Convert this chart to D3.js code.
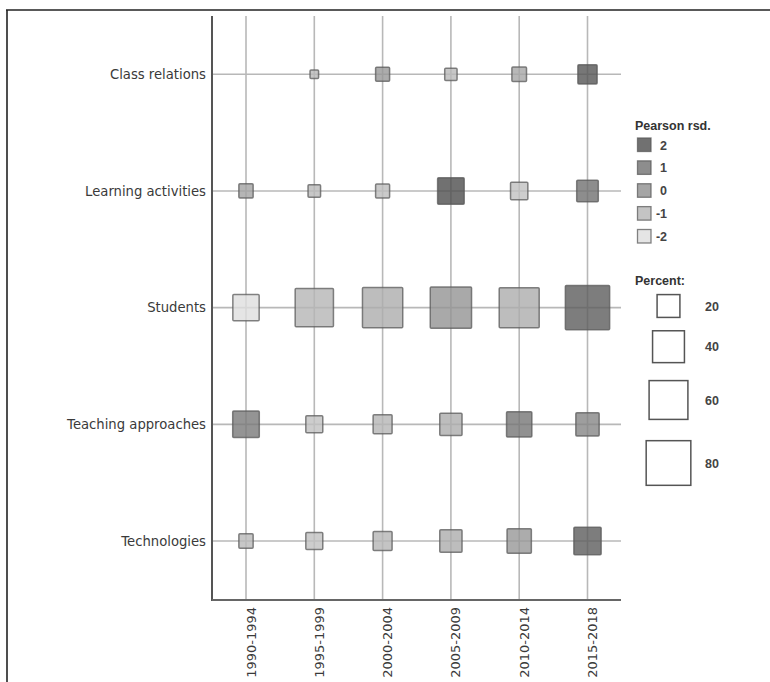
<!DOCTYPE html>
<html>
<head>
<meta charset="utf-8">
<script src="https://cdn.jsdelivr.net/npm/d3@7"></script>
<style>
html, body { margin: 0; padding: 0; background: #fff; }
svg { display: block; }
</style>
</head>
<body>
<svg id="chart" width="770" height="682"></svg>
<script>
// ---- data ----
const periods = ["1990-1994", "1995-1999", "2000-2004", "2005-2009", "2010-2014", "2015-2018"];
const categories = ["Class relations", "Learning activities", "Students", "Teaching approaches", "Technologies"];
// percent per category (rows) and period (columns); null = no square
const percentClassRelations     = [null, 2.4, 7.1, 5.4, 7.8, 14];
const percentLearningActivities = [7.4, 5.6, 7.1, 27.5, 11.2, 17.8];
const percentStudents           = [26.9, 58.4, 64.8, 68.2, 63.9, 78.7];
const percentTeachingApproaches = [27.5, 10.7, 13.6, 19, 24.8, 20.9];
const percentTechnologies       = [7.4, 10.7, 13.6, 19, 22.8, 29];
// Pearson residuals
const rsdClassRelations     = [null, -1.1, -0.2, -1.1, -0.6, 1.8];
const rsdLearningActivities = [-0.5, -1.1, -1.2, 2.2, -1.3, 1.0];
const rsdStudents           = [-2.0, -1.0, -0.8, -0.1, -0.8, 1.6];
const rsdTeachingApproaches = [0.7, -1.3, -1.0, -0.8, 0.8, 0.3];
const rsdTechnologies       = [-1.1, -1.3, -1.0, -0.8, -0.2, 1.6];
const legendRsd = [2, 1, 0, -1, -2];
const legendPercent = [20, 40, 60, 80];

const percentRows = [percentClassRelations, percentLearningActivities, percentStudents, percentTeachingApproaches, percentTechnologies];
const rsdRows = [rsdClassRelations, rsdLearningActivities, rsdStudents, rsdTeachingApproaches, rsdTechnologies];

const cells = [];
categories.forEach((c, i) => {
  periods.forEach((p, j) => {
    if (percentRows[i][j] != null) cells.push({cat: c, period: p, pct: percentRows[i][j], rsd: rsdRows[i][j]});
  });
});

// ---- scales ----
const svg = d3.select("#chart");
const x = d3.scalePoint().domain(periods).range([246, 587.5]);
const y = d3.scalePoint().domain(categories).range([74.3, 541]);
const size = d3.scaleSqrt().domain([0, 100]).range([0, 48.8]);
const side = p => size(p) + 1;
const color = d3.scaleLinear().domain([-2, -1, 0, 1, 2])
  .range(["#dedede", "#b5b5b5", "#8f8f8f", "#707070", "#4e4e4e"]).clamp(true);

const axisLeft = 212, axisBottom = 600, plotTop = 16, plotRight = 621;

// frame
svg.append("line").attr("x1", 6).attr("x2", 770).attr("y1", 10).attr("y2", 10)
  .attr("stroke", "#222").attr("stroke-width", 1.6);
svg.append("line").attr("x1", 7).attr("x2", 7).attr("y1", 10).attr("y2", 682)
  .attr("stroke", "#222").attr("stroke-width", 1.6);

// gridlines
const grid = svg.append("g");
grid.selectAll("line.v").data(periods).join("line")
  .attr("x1", d => x(d)).attr("x2", d => x(d))
  .attr("y1", plotTop).attr("y2", axisBottom)
  .attr("stroke", "#b8b8b8").attr("stroke-width", 1.6);
grid.selectAll("line.h").data(categories).join("line")
  .attr("x1", axisLeft).attr("x2", plotRight)
  .attr("y1", d => y(d)).attr("y2", d => y(d))
  .attr("stroke", "#b8b8b8").attr("stroke-width", 1.6);

// axes
const yAxis = svg.append("g").attr("transform", `translate(${axisLeft},0)`)
  .call(d3.axisLeft(y).tickSize(0).tickPadding(6));
yAxis.select(".domain").remove();
yAxis.selectAll("text").attr("font-family", "DejaVu Sans").attr("font-size", 13.2).attr("fill", "#3a3a3a");

const xAxis = svg.append("g").attr("transform", `translate(0,${axisBottom})`)
  .call(d3.axisBottom(x).tickSize(0));
xAxis.select(".domain").remove();
xAxis.selectAll("text")
  .attr("font-family", "DejaVu Sans").attr("font-size", 13).attr("fill", "#3a3a3a")
  .attr("text-anchor", "end")
  .attr("transform", "translate(9,7) rotate(-90)")
  .attr("x", 0).attr("y", 0).attr("dy", 0);

svg.append("line").attr("x1", axisLeft).attr("x2", axisLeft).attr("y1", plotTop).attr("y2", axisBottom + 1)
  .attr("stroke", "#555").attr("stroke-width", 2);
svg.append("line").attr("x1", axisLeft).attr("x2", plotRight).attr("y1", axisBottom).attr("y2", axisBottom)
  .attr("stroke", "#666").attr("stroke-width", 2);

// squares
svg.append("g").selectAll("rect").data(cells).join("rect")
  .attr("x", d => x(d.period) - side(d.pct) / 2)
  .attr("y", d => y(d.cat) - side(d.pct) / 2)
  .attr("width", d => side(d.pct))
  .attr("height", d => side(d.pct))
  .attr("rx", 1)
  .attr("fill", d => color(d.rsd)).attr("fill-opacity", 0.8)
  .attr("stroke", "#5a5a5a").attr("stroke-opacity", 0.75).attr("stroke-width", 1.5);

// legend: Pearson residuals
const lg = svg.append("g");
lg.append("text").attr("x", 635).attr("y", 129.5).text("Pearson rsd.")
  .attr("font-family", "Liberation Sans").attr("font-weight", "bold").attr("font-size", 12.5).attr("fill", "#333");
const ly = d3.scalePoint().domain(legendRsd).range([145, 236.5]);
lg.selectAll("rect").data(legendRsd).join("rect")
  .attr("x", 637.5).attr("y", d => ly(d) - 7).attr("width", 13.5).attr("height", 13.5)
  .attr("fill", d => color(d)).attr("fill-opacity", 0.8)
  .attr("stroke", "#5a5a5a").attr("stroke-opacity", 0.75).attr("stroke-width", 1.3);
lg.selectAll("text.l").data(legendRsd).join("text")
  .attr("x", 667).attr("y", d => ly(d) + 4.5).attr("text-anchor", "end")
  .text(d => d)
  .attr("font-family", "Liberation Sans").attr("font-weight", "bold").attr("font-size", 12.5).attr("fill", "#444");

// legend: percent
lg.append("text").attr("x", 635).attr("y", 284.5).text("Percent:")
  .attr("font-family", "Liberation Sans").attr("font-weight", "bold").attr("font-size", 12.5).attr("fill", "#333");
const pCenters = d3.scaleOrdinal().domain(legendPercent).range([306, 346.7, 400, 463]);
lg.selectAll("rect.p").data(legendPercent).join("rect")
  .attr("x", d => 668.5 - side(d) / 2).attr("y", d => pCenters(d) - side(d) / 2)
  .attr("width", d => side(d)).attr("height", d => side(d))
  .attr("fill", "#fff").attr("stroke", "#555").attr("stroke-width", 1.5);
lg.selectAll("text.p").data(legendPercent).join("text")
  .attr("x", 705).attr("y", d => pCenters(d) + 4.5)
  .text(d => d)
  .attr("font-family", "Liberation Sans").attr("font-weight", "bold").attr("font-size", 12.5).attr("fill", "#444");
</script>
</body>
</html>
